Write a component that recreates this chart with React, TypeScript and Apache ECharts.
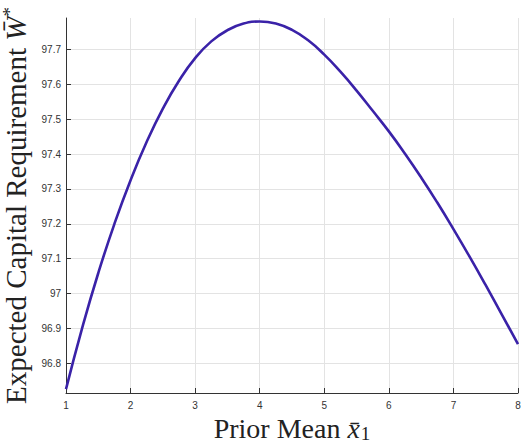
import React, { useEffect, useRef } from "react";
import * as echarts from "echarts";

const xValues = [1.0, 1.25, 1.5, 1.75, 2.0, 2.25, 2.5, 2.75, 3.0, 3.25, 3.5, 3.75, 4.0, 4.25, 4.5, 4.75, 5.0, 5.25, 5.5, 5.75, 6.0, 6.25, 6.5, 6.75, 7.0, 7.25, 7.5, 7.75, 8.0];
const yValues = [96.726, 96.901, 97.059, 97.2, 97.325, 97.435, 97.53, 97.61, 97.675, 97.723, 97.755, 97.774, 97.78, 97.774, 97.756, 97.726, 97.685, 97.636, 97.582, 97.524, 97.465, 97.401, 97.333, 97.261, 97.185, 97.106, 97.024, 96.94, 96.855];
const xTicks = [1, 2, 3, 4, 5, 6, 7, 8];
const yMin = 96.715;
const yMax = 97.79;

export default function App() {
  const ref = useRef<HTMLDivElement>(null);
  useEffect(() => {
    document.body.style.margin = "0";
    if (!ref.current) return;
    const chart = echarts.init(ref.current, null, { renderer: "svg" });
    const serif = "'Liberation Serif', 'DejaVu Serif', serif";
    const sans = "'Liberation Sans', Arial, sans-serif";
    chart.setOption({
      animation: false,
      backgroundColor: "#ffffff",
      grid: { left: 66, right: 4, top: 18, bottom: 51, containLabel: false, outerBoundsMode: "none" },
      xAxis: {
        type: "value",
        min: xTicks[0],
        max: xTicks[xTicks.length - 1],
        interval: 1,
        name: "{n|Prior Mean }{i|x̄}{sub|1}",
        nameLocation: "middle",
        nameGap: 12,
        nameTextStyle: {
          rich: {
            n: { fontFamily: serif, fontSize: 28, color: "#222", lineHeight: 28 },
            i: { fontFamily: serif, fontSize: 28, fontStyle: "italic", color: "#222", lineHeight: 28 },
            sub: { fontFamily: serif, fontSize: 19, color: "#222", lineHeight: 28, verticalAlign: "bottom", padding: [0, 0, 0, 1] },
          },
        },
        axisLine: { show: true, lineStyle: { color: "#333", width: 1 } },
        axisTick: { show: true, inside: true, length: 5, lineStyle: { color: "#333" } },
        axisLabel: { fontFamily: sans, fontSize: 10, color: "#333", margin: 7 },
        splitLine: { show: true, lineStyle: { color: "#e3e3e3", width: 1 } },
      },
      yAxis: {
        type: "value",
        min: yMin,
        max: yMax,
        splitNumber: 10,
        minInterval: 0.1,
        maxInterval: 0.1,
        name: "{n|Expected Capital Requirement }{i|W̄}{sup|*}",
        nameLocation: "middle",
        nameRotate: 90,
        nameGap: 28,
        nameTextStyle: {
          rich: {
            n: { fontFamily: serif, fontSize: 29, color: "#222", lineHeight: 32 },
            i: { fontFamily: serif, fontSize: 29, fontStyle: "italic", color: "#222", lineHeight: 32 },
            sup: { fontFamily: serif, fontSize: 19, color: "#222", lineHeight: 32, verticalAlign: "top" },
          },
        },
        axisLine: { show: true, lineStyle: { color: "#333", width: 1 } },
        axisTick: { show: true, inside: true, length: 5, lineStyle: { color: "#333" } },
        axisLabel: {
          fontFamily: sans,
          fontSize: 10,
          color: "#333",
          margin: 5,
          showMinLabel: false,
          showMaxLabel: false,
          formatter: (v: number) => {
            const r = Math.round(v * 10) / 10;
            if (Math.abs(r - v) > 1e-6) return "";
            return Number.isInteger(r) ? String(r) : r.toFixed(1);
          },
        },
        splitLine: { show: true, showMaxLine: false, lineStyle: { color: "#e3e3e3", width: 1 } },
      },
      series: [
        {
          type: "line",
          data: xValues.map((x, i) => [x, yValues[i]]),
          smooth: true,
          showSymbol: false,
          lineStyle: { color: "#3a22a8", width: 2.6 },
        },
      ],
    });
    return () => chart.dispose();
  }, []);
  return <div ref={ref} style={{ width: 522, height: 444 }} />;
}
